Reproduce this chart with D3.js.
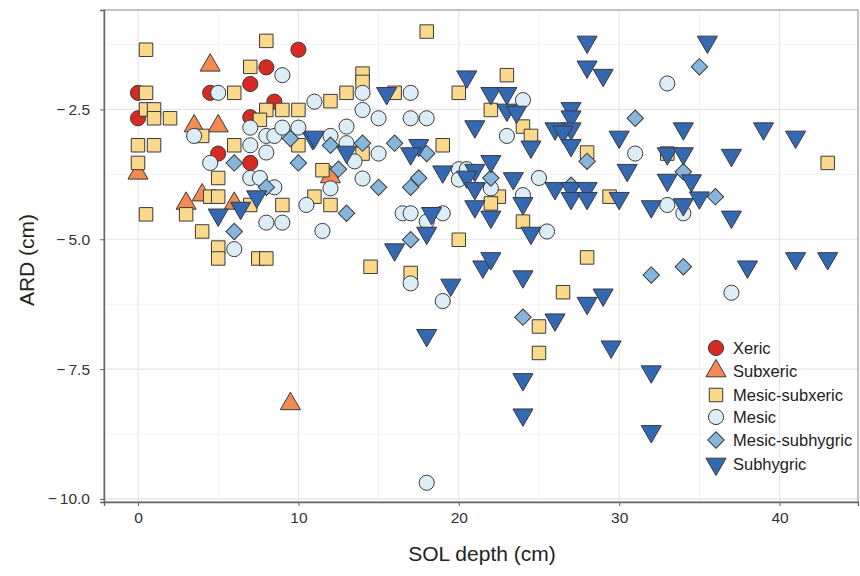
<!DOCTYPE html>
<html lang="en">
<head>
  <meta charset="UTF-8">
  <title>ARD vs SOL depth</title>
  <script src="https://d3js.org/d3.v7.min.js"></script>
  <style>
    body {
      margin: 0;
      background: #fff;
      font-family: "Liberation Sans", Arial, sans-serif;
    }
    .tick-label {
      font-size: 15.5px;
      fill: #333;
    }
    .axis-title {
      font-size: 21px;
      fill: #222;
    }
    .legend-label {
      font-size: 16.5px;
      fill: #222;
    }
  </style>
</head>
<body>
  <div id="chart"></div>

  <script>
    // [SOL depth (cm), ARD (cm)] for each moisture class
    const xeric = [
      [10, -1.35], [8, -1.69], [7, -2.01], [0, -2.18], [4.5, -2.18], [8.5, -2.35],
      [0, -2.67], [7, -2.65], [5, -3.35], [7, -3.53]
    ];
    const subxeric = [
      [4.5, -1.65], [3.5, -2.82], [5, -2.82], [0, -3.73], [4, -4.15], [3, -4.31],
      [6, -4.31], [12, -3.8], [9.5, -8.17]
    ];
    const mesicSubxeric = [
      [0.5, -1.35], [8, -1.18], [7, -1.68], [0.5, -2.18], [6, -2.18], [0.5, -2.5],
      [1, -2.5], [8, -2.51], [9, -2.51], [10, -2.51], [1, -2.67], [2, -2.67],
      [7.6, -2.7], [4, -3.01], [0, -3.19], [1, -3.19], [6, -3.19], [10, -3.19],
      [0, -3.53], [5, -3.82], [4.5, -4.18], [5, -4.18], [7, -4.34], [9, -4.34],
      [0.5, -4.52], [3, -4.52], [4, -4.85], [5, -5.16], [5, -5.37], [7.5, -5.37],
      [8, -5.37], [18, -1.0], [14, -1.81], [14, -1.97], [13, -2.18], [16, -2.18],
      [12, -2.34], [14, -3.35], [19, -3.19], [20, -2.18], [23, -1.84], [22, -2.51],
      [11.5, -3.67], [11, -4.18], [12, -4.34], [17, -5.65], [14.5, -5.53], [20, -5.01],
      [22.5, -4.18], [22, -4.31], [24, -2.83], [24.5, -3.01], [28, -3.33], [33, -3.35],
      [29.4, -4.18], [24, -4.66], [28, -5.35], [26.5, -6.02], [25, -6.68], [25, -7.19],
      [43, -3.53]
    ];
    const mesic = [
      [9, -1.84], [5, -2.18], [11, -2.35], [3.5, -3.01], [7, -2.85], [8, -3.01],
      [8.5, -3.01], [9, -2.85], [10, -2.85], [7, -3.19], [8, -3.33], [4.5, -3.53],
      [7, -3.82], [7.6, -3.82], [8.5, -4.0], [10.5, -4.34], [8, -4.68], [9, -4.68],
      [6, -5.19], [11.5, -4.84], [14, -2.18], [17, -2.18], [14, -2.51], [15, -2.67],
      [17, -2.67], [18, -2.67], [13, -2.83], [12, -3.01], [13, -3.15], [15, -3.35],
      [13.5, -3.5], [14, -3.83], [23, -3.01], [20, -3.65], [20.5, -3.65], [12, -4.02],
      [16.5, -4.5], [17, -4.5], [19, -4.5], [18, -4.66], [17, -5.85], [19, -6.19],
      [20, -3.85], [22, -4.02], [24, -2.32], [31, -3.35], [33, -2.0], [25, -3.82],
      [24, -4.15], [25.5, -4.85], [33, -4.34], [34, -4.5], [37, -6.03], [18, -9.69]
    ];
    const mesicSubhygric = [
      [9.5, -3.06], [6, -3.53], [10, -3.53], [8, -4.0], [6, -4.85], [12, -3.19],
      [14, -3.15], [16, -3.15], [18, -3.35], [12.5, -3.65], [17.5, -3.82], [22, -3.82],
      [15, -4.0], [17, -4.0], [13, -4.5], [17, -5.01], [24, -6.5], [28, -3.5],
      [31, -2.67], [35, -1.68], [34, -3.7], [27, -3.96], [32, -5.69], [34, -5.53],
      [36, -4.18]
    ];
    const subhygric = [
      [10.9, -3.06], [7.4, -4.18], [5, -4.53], [6.4, -4.4], [15.5, -2.19], [11, -3.03],
      [13, -3.32], [17.5, -3.19], [17, -3.35], [19, -3.7], [20.5, -1.87], [22, -2.19],
      [23, -2.19], [23, -2.51], [21, -2.83], [21, -3.67], [22, -3.5], [23.4, -3.83],
      [18.3, -4.5], [18, -4.88], [16, -5.2], [19.5, -5.88], [18, -6.85], [21.5, -5.53],
      [22, -5.37], [21, -4.37], [22, -4.57], [20.5, -3.8], [21, -4.02], [28, -1.2],
      [28, -1.68], [29, -1.84], [23.6, -2.55], [27, -2.48], [27, -2.64], [27, -2.87],
      [26, -2.87], [26.5, -2.93], [27, -3.19], [24.5, -3.22], [30, -3.03], [34, -2.87],
      [33, -3.35], [34, -3.35], [30.5, -3.67], [35.5, -1.2], [26, -4.02], [27, -4.02],
      [28, -4.02], [27, -4.21], [28, -4.21], [30, -4.21], [32, -4.37], [34, -4.33],
      [33, -3.86], [34.5, -3.87], [35, -4.2], [24, -4.31], [24.5, -4.88], [24, -5.72],
      [28, -6.23], [29, -6.07], [26, -6.55], [39, -2.87], [41, -3.03], [37, -3.38],
      [37, -4.57], [38, -5.53], [41, -5.37], [43, -5.37], [29.5, -7.07], [32, -7.55],
      [24, -7.7], [24, -8.38], [32, -8.7]
    ];

    const xTicks = [0, 10, 20, 30, 40];
    const yTicks = [-2.5, -5.0, -7.5, -10.0];
    const xMinor = [5, 15, 25, 35];
    const yMinor = [-1.25, -3.75, -6.25, -8.75];

    const classes = [
      { name: "Xeric", data: xeric, shape: "circle", fill: "#d62a22" },
      { name: "Subxeric", data: subxeric, shape: "up", fill: "#f28a52" },
      { name: "Mesic-subxeric", data: mesicSubxeric, shape: "square", fill: "#fbd98b" },
      { name: "Mesic", data: mesic, shape: "circle", fill: "#dcedf6" },
      { name: "Mesic-subhygric", data: mesicSubhygric, shape: "diamond", fill: "#86b6dc" },
      { name: "Subhygric", data: subhygric, shape: "down", fill: "#3568b3" }
    ];

    const width = 860, height = 576;
    const panel = { left: 104, right: 858, top: 10, bottom: 502 };

    const svg = d3.select("#chart").append("svg")
      .attr("width", width)
      .attr("height", height);

    const x = d3.scaleLinear()
      .domain([-2.12, 44.89])
      .range([panel.left, panel.right]);

    const y = d3.scaleLinear()
      .domain([-10.06, -0.585])
      .range([panel.bottom, panel.top]);

    // grid
    const grid = svg.append("g");
    grid.selectAll(".xminor").data(xMinor).enter().append("line")
      .attr("x1", d => x(d)).attr("x2", d => x(d))
      .attr("y1", panel.top).attr("y2", panel.bottom)
      .attr("stroke", "#f2f2f2").attr("stroke-width", 1);
    grid.selectAll(".yminor").data(yMinor).enter().append("line")
      .attr("x1", panel.left).attr("x2", panel.right)
      .attr("y1", d => y(d)).attr("y2", d => y(d))
      .attr("stroke", "#f2f2f2").attr("stroke-width", 1);
    grid.selectAll(".xmajor").data(xTicks).enter().append("line")
      .attr("x1", d => x(d)).attr("x2", d => x(d))
      .attr("y1", panel.top).attr("y2", panel.bottom)
      .attr("stroke", "#e6e6e6").attr("stroke-width", 1.2);
    grid.selectAll(".ymajor").data(yTicks).enter().append("line")
      .attr("x1", panel.left).attr("x2", panel.right)
      .attr("y1", d => y(d)).attr("y2", d => y(d))
      .attr("stroke", "#e6e6e6").attr("stroke-width", 1.2);

    // panel border
    svg.append("rect")
      .attr("x", panel.left).attr("y", panel.top)
      .attr("width", panel.right - panel.left)
      .attr("height", panel.bottom - panel.top)
      .attr("fill", "none")
      .attr("stroke", "#999").attr("stroke-width", 1.2);

    // axes
    const xAxis = svg.append("g")
      .attr("transform", "translate(0," + panel.bottom + ")")
      .call(d3.axisBottom(x).tickValues(xTicks).tickSize(4).tickPadding(6).tickFormat(d3.format("d")));
    const yAxis = svg.append("g")
      .attr("transform", "translate(" + panel.left + ",0)")
      .call(d3.axisLeft(y).tickValues(yTicks).tickSize(4).tickPadding(10)
        .tickFormat(d => "\u2212" + "\u2009" + d3.format(".1f")(-d)));

    [xAxis, yAxis].forEach(a => {
      a.select(".domain").attr("stroke", "#666").attr("stroke-width", 1.4);
      a.selectAll(".tick line").attr("stroke", "#666");
      a.selectAll(".tick text")
        .attr("class", "tick-label")
        .style("font-family", "'Liberation Sans', Arial, sans-serif");
    });

    // axis titles
    svg.append("text")
      .attr("class", "axis-title")
      .attr("x", 482).attr("y", 561)
      .attr("text-anchor", "middle")
      .text("SOL depth (cm)");

    svg.append("text")
      .attr("class", "axis-title")
      .attr("transform", "translate(34," + y(-5.4) + ") rotate(-90)")
      .attr("text-anchor", "middle")
      .text("ARD (cm)");

    // marker shapes
    function shapePath(shape) {
      if (shape === "circle") return d3.symbol().type(d3.symbolCircle).size(180)();
      if (shape === "square") return d3.symbol().type(d3.symbolSquare).size(182)();
      if (shape === "diamond") return d3.symbol().type(d3.symbolSquare).size(135)();
      return d3.symbol().type(d3.symbolTriangle).size(175)();
    }
    function shapeRotate(shape) {
      if (shape === "diamond") return 45;
      if (shape === "down") return 180;
      return 0;
    }

    const points = svg.append("g");
    classes.forEach(c => {
      points.selectAll(null)
        .data(c.data)
        .enter().append("path")
        .attr("d", shapePath(c.shape))
        .attr("transform", d => "translate(" + x(d[0]) + "," + y(d[1]) + ") rotate(" + shapeRotate(c.shape) + ")")
        .attr("fill", c.fill)
        .attr("stroke", "#3a3a3a")
        .attr("stroke-width", 1);
    });

    // legend
    const legendY = [348, 371, 395, 417, 440, 464];
    const legend = svg.append("g");
    classes.forEach((c, i) => {
      legend.append("path")
        .attr("d", shapePath(c.shape))
        .attr("transform", "translate(716," + legendY[i] + ") rotate(" + shapeRotate(c.shape) + ")")
        .attr("fill", c.fill)
        .attr("stroke", "#3a3a3a")
        .attr("stroke-width", 1);
      legend.append("text")
        .attr("class", "legend-label")
        .attr("x", 733)
        .attr("y", legendY[i])
        .attr("dy", "0.36em")
        .text(c.name);
    });
  </script>
</body>
</html>
